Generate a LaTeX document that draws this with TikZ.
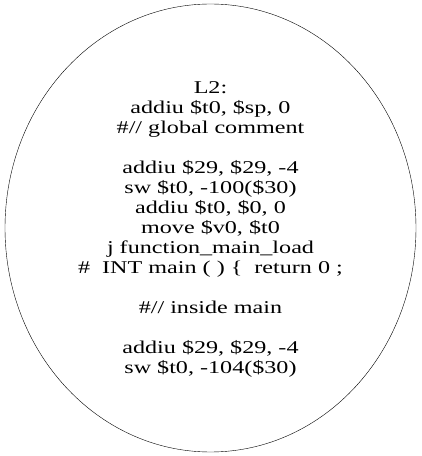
\documentclass[tikz,border=0pt]{standalone}
\usepackage{fontspec}
\setmainfont{Liberation Serif}
\usepackage{tikz}

\begin{document}
\begin{tikzpicture}[x=1pt, y=1pt]
    \useasboundingbox (0,0) rectangle (422,456);
    % Block outline
    \draw[thin] (210.5,228) ellipse (205.5 and 224);
    % Block code
    \node[align=center, xscale=1.34, transform shape,
          font=\fontsize{18}{20}\selectfont] (block) at (210.5,226.5) {%
        L2:\\
        addiu \$t0, \$sp, 0\\
        \#// global comment\\[20pt]
        addiu \$29, \$29, -4\\
        sw \$t0, -100(\$30)\\
        addiu \$t0, \$0, 0\\
        move \$v0, \$t0\\
        j function\_main\_load\\
        \#\ \ INT main ( ) \{\ \ return 0 ;\\[20pt]
        \#// inside main\\[20pt]
        addiu \$29, \$29, -4\\
        sw \$t0, -104(\$30)};
\end{tikzpicture}
\end{document}
